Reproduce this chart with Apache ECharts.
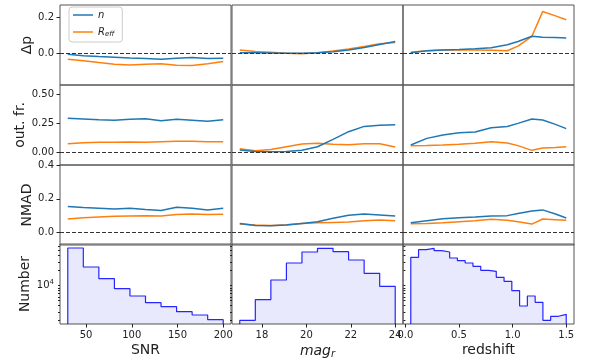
<!DOCTYPE html>
<html>
<head>
<meta charset="utf-8">
<script src="https://cdn.jsdelivr.net/npm/echarts@6/dist/echarts.min.js"></script>
<style>
  html, body { margin: 0; padding: 0; background: #fff; }
  #chart { width: 589px; height: 363px; }
</style>
</head>
<body>
<div id="chart"></div>
<script>
// bin edges / sample positions
const snrEdges = [30, 47, 64, 81, 98, 115, 132, 149, 166, 183, 200];
const magEdges = [17, 17.7, 18.4, 19.1, 19.8, 20.5, 21.2, 21.9, 22.6, 23.3, 24];
const zEdges = [0.05, 0.1225, 0.195, 0.2675, 0.34, 0.4125, 0.485, 0.5575, 0.63, 0.7025, 0.775,
  0.8475, 0.92, 0.9925, 1.065, 1.1375, 1.21, 1.2825, 1.355, 1.4275, 1.5];
const zGrid = [0.05, 0.2, 0.35, 0.5, 0.65, 0.8, 0.95, 1.05, 1.18, 1.28, 1.4, 1.5];

// Δp
const dpSnrN = [-0.007, -0.015, -0.02, -0.024, -0.028, -0.031, -0.035, -0.03, -0.026, -0.031, -0.03];
const dpSnrR = [-0.035, -0.044, -0.054, -0.063, -0.067, -0.063, -0.061, -0.069, -0.07, -0.061, -0.048];
const dpMagN = [0.002, 0.002, 0.0, -0.002, -0.002, 0.002, 0.007, 0.017, 0.031, 0.048, 0.065];
const dpMagR = [0.017, 0.009, 0.004, -0.002, -0.004, 0.002, 0.011, 0.022, 0.037, 0.052, 0.059];
const dpZN = [0.002, 0.013, 0.017, 0.02, 0.024, 0.03, 0.046, 0.065, 0.094, 0.089, 0.087, 0.085];
const dpZR = [0.004, 0.013, 0.017, 0.017, 0.017, 0.015, 0.013, 0.039, 0.094, 0.233, 0.209, 0.187];

// outlier fraction
const ofSnrN = [0.293, 0.287, 0.281, 0.276, 0.284, 0.29, 0.273, 0.284, 0.276, 0.267, 0.281];
const ofSnrR = [0.077, 0.085, 0.088, 0.088, 0.091, 0.088, 0.094, 0.097, 0.097, 0.094, 0.094];
const ofMagN = [0.023, 0.011, 0.009, 0.011, 0.02, 0.051, 0.114, 0.179, 0.224, 0.233, 0.239];
const ofMagR = [0.034, 0.017, 0.028, 0.051, 0.074, 0.08, 0.071, 0.068, 0.077, 0.077, 0.048];
const ofZN = [0.065, 0.122, 0.151, 0.17, 0.176, 0.213, 0.224, 0.25, 0.287, 0.278, 0.241, 0.205];
const ofZR = [0.06, 0.062, 0.065, 0.071, 0.08, 0.094, 0.082, 0.06, 0.02, 0.04, 0.045, 0.051];

// NMAD
const nmSnrN = [0.154, 0.148, 0.144, 0.14, 0.144, 0.136, 0.13, 0.15, 0.144, 0.134, 0.144];
const nmSnrR = [0.08, 0.088, 0.092, 0.096, 0.098, 0.1, 0.098, 0.106, 0.11, 0.106, 0.108];
const nmMagN = [0.054, 0.042, 0.04, 0.044, 0.054, 0.064, 0.084, 0.102, 0.11, 0.104, 0.098];
const nmMagR = [0.05, 0.044, 0.042, 0.046, 0.054, 0.058, 0.06, 0.062, 0.07, 0.074, 0.07];
const nmZN = [0.058, 0.07, 0.082, 0.088, 0.092, 0.098, 0.1, 0.112, 0.128, 0.134, 0.11, 0.086];
const nmZR = [0.052, 0.054, 0.058, 0.064, 0.07, 0.078, 0.072, 0.064, 0.05, 0.08, 0.076, 0.072];

// histogram counts
const snrCounts = [56700, 23600, 13800, 8710, 6210, 4570, 3800, 3020, 2590, 2090];
const magCounts = [2030, 5250, 12980, 28400, 47100, 55800, 47860, 32600, 17650, 9700];
const zCounts = [36870, 52480, 55800, 50120, 47100, 35740, 31620, 28400, 24370, 20280,
  19360, 14680, 12210, 7940, 3920, 6210, 4640, 2030, 2440, 2670];

// tick labels
const snrTicks = [50, 100, 150, 200];
const magTicks = [18, 20, 22, 24];
const zTicks = [0, 0.5, 1.0, 1.5];
const dpTicks = [0, 0.2];
const ofTicks = [0, 0.25, 0.5];
const nmTicks = [0, 0.2, 0.4];
const numTicks = [10000];
const numMinor = [2000, 3000, 4000, 5000, 6000, 7000, 8000, 9000, 20000, 30000, 40000, 50000, 60000];

const BLUE = '#1f77b4';
const ORANGE = '#ff7f0e';
const FONT = 'DejaVu Sans';

const colLeft = [60, 232, 403];
const colW = 171;
const rowTop = [5, 85, 165, 244];
const rowH = 80;

const xRanges = [[21.5, 208.5], [16.65, 24.35], [-0.0225, 1.5725]];
const xTickSets = [snrTicks, magTicks, zTicks];
const xFmt = [v => String(v), v => String(v), v => v.toFixed(1)];
const xNames = ['SNR', '{i|mag}{s|r}', 'redshift'];

const yRanges = [[-0.18, 0.27], [-0.105, 0.577], [-0.074, 0.4], [1711, 68100]];
const yTickSets = [dpTicks, ofTicks, nmTicks, numTicks];
const yFmt = [v => v.toFixed(1), v => v.toFixed(2), v => v.toFixed(1), v => '10{sup|4}'];
const yNames = ['Δp', 'out. fr.', 'NMAD', 'Number'];
const yNameGap = [26, 32, 26, 28];

const lineData = [
  [[snrEdges, dpSnrN, dpSnrR], [magEdges, dpMagN, dpMagR], [zGrid, dpZN, dpZR]],
  [[snrEdges, ofSnrN, ofSnrR], [magEdges, ofMagN, ofMagR], [zGrid, ofZN, ofZR]],
  [[snrEdges, nmSnrN, nmSnrR], [magEdges, nmMagN, nmMagR], [zGrid, nmZN, nmZR]]
];
const histData = [[snrEdges, snrCounts], [magEdges, magCounts], [zEdges, zCounts]];

const grids = [], xAxes = [], yAxes = [], series = [];

for (let r = 0; r < 4; r++) {
  for (let c = 0; c < 3; c++) {
    const g = r * 3 + c;
    grids.push({
      left: colLeft[c], top: rowTop[r], width: colW, height: rowH,
      show: true, borderColor: '#555', borderWidth: 1, backgroundColor: 'transparent'
    });
    const bottom = r === 3;
    xAxes.push({
      type: 'value', gridIndex: g, min: xRanges[c][0], max: xRanges[c][1],
      axisLine: { show: false }, splitLine: { show: false },
      axisTick: { show: bottom, length: 3.5, lineStyle: { color: '#222' }, customValues: xTickSets[c] },
      axisLabel: {
        show: bottom, customValues: xTickSets[c], formatter: xFmt[c],
        fontFamily: FONT, fontSize: 10, color: '#222', margin: 6
      },
      name: bottom ? xNames[c] : '', nameLocation: 'middle', nameGap: 19,
      nameTextStyle: {
        fontFamily: FONT, fontSize: 14, color: '#222',
        rich: {
          i: { fontFamily: FONT, fontSize: 14, fontStyle: 'italic', color: '#222' },
          s: { fontFamily: FONT, fontSize: 10, fontStyle: 'italic', color: '#222', verticalAlign: 'bottom', padding: [6, 0, 0, 0] }
        }
      }
    });
    const first = c === 0;
    const yAx = {
      type: r === 3 ? 'log' : 'value', gridIndex: g, min: yRanges[r][0], max: yRanges[r][1],
      axisLine: { show: false }, splitLine: { show: false },
      axisTick: {
        show: first || r === 3, length: r === 3 ? 2 : 3.5, lineStyle: { color: '#222' },
        customValues: r === 3 ? numMinor.concat(numTicks) : yTickSets[r]
      },
      axisLabel: {
        show: first, customValues: yTickSets[r], formatter: yFmt[r],
        fontFamily: FONT, fontSize: 10, color: '#222', margin: 6,
        rich: { sup: { fontFamily: FONT, fontSize: 7, color: '#222', verticalAlign: 'top', padding: [0, 0, 6, 0] } }
      },
      name: first ? yNames[r] : '', nameLocation: 'middle', nameGap: yNameGap[r], nameRotate: 90,
      nameTextStyle: { fontFamily: FONT, fontSize: 14, color: '#222' }
    };
    if (r === 3) yAx.logBase = 10;
    yAxes.push(yAx);

    if (r < 3) {
      const [xs, yn, yr] = lineData[r][c];
      series.push({
        type: 'line', name: 'n', xAxisIndex: g, yAxisIndex: g,
        data: xs.map((x, i) => [x, yn[i]]), symbol: 'none', z: 3,
        lineStyle: { width: 1.5, color: BLUE }, itemStyle: { color: BLUE },
        markLine: {
          silent: true, symbol: 'none', label: { show: false },
          lineStyle: { type: [4, 2], color: '#333', width: 1 }, data: [{ yAxis: 0 }]
        }
      });
      series.push({
        type: 'line', name: 'R_eff', xAxisIndex: g, yAxisIndex: g,
        data: xs.map((x, i) => [x, yr[i]]), symbol: 'none', z: 2,
        lineStyle: { width: 1.5, color: ORANGE }, itemStyle: { color: ORANGE }
      });
    } else {
      const [edges, counts] = histData[c];
      const floor = yRanges[3][0];
      const pts = [[edges[0], floor]];
      counts.forEach((v, i) => pts.push([edges[i], v]));
      pts.push([edges[edges.length - 1], counts[counts.length - 1]]);
      pts.push([edges[edges.length - 1], floor]);
      series.push({
        type: 'line', name: 'hist', xAxisIndex: g, yAxisIndex: g, step: 'end',
        data: pts, symbol: 'none',
        lineStyle: { width: 1.2, color: 'rgba(0,0,255,0.85)' },
        areaStyle: { color: 'rgba(0,0,230,0.12)', origin: 'start' }
      });
    }
  }
}

const chart = echarts.init(document.getElementById('chart'), null, { renderer: 'canvas' });
chart.setOption({
  animation: false,
  backgroundColor: '#fff',
  grid: grids,
  xAxis: xAxes,
  yAxis: yAxes,
  legend: {
    data: ['n', 'R_eff'], orient: 'vertical', left: 69, top: 7,
    icon: 'rect', itemWidth: 20, itemHeight: 1.5, itemGap: 7,
    backgroundColor: '#fff', borderColor: '#ccc', borderWidth: 1, borderRadius: 3,
    padding: [3, 8, 4, 4], selectedMode: false,
    formatter: name => name === 'n' ? '{i|n}' : '{i|R}{s|eff}',
    textStyle: {
      fontFamily: FONT, color: '#222',
      rich: {
        i: { fontFamily: FONT, fontSize: 10, fontStyle: 'italic', color: '#222' },
        s: { fontFamily: FONT, fontSize: 7, fontStyle: 'italic', color: '#222', verticalAlign: 'bottom', padding: [5, 0, 0, 0] }
      }
    }
  },
  series: series
});
</script>
</body>
</html>
